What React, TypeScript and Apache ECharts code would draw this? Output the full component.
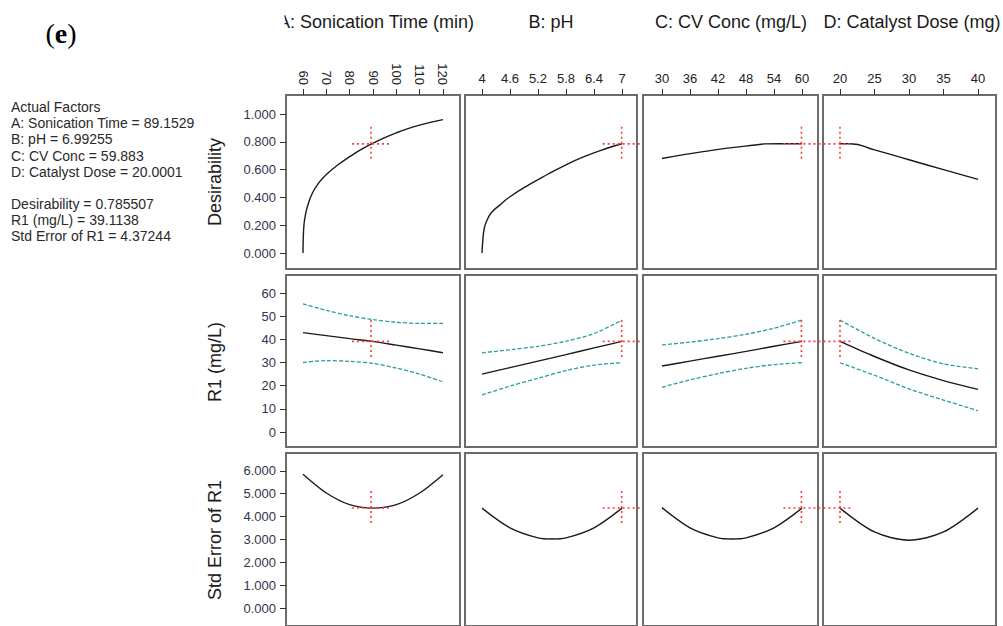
import React, { useEffect, useRef } from "react";
import * as echarts from "echarts";

// ---------- text ----------
const colTitles = ["A: Sonication Time (min)", "B: pH", "C: CV Conc (mg/L)", "D: Catalyst Dose (mg)"];
const rowNames = ["Desirability", "R1 (mg/L)", "Std Error of R1"];
const factorNames = ["A: Sonication Time", "B: pH", "C: CV Conc", "D: Catalyst Dose"];
const optimum = [89.1529, 6.99255, 59.883, 20.0001];
const optDesirability = 0.785507;
const optR1 = 39.1138;
const optSE = 4.37244;
const optR1Band = [31.5, 48.4];

// ---------- ticks ----------
const xTicks = [
  [60, 70, 80, 90, 100, 110, 120],
  [4, 4.6, 5.2, 5.8, 6.4, 7],
  [30, 36, 42, 48, 54, 60],
  [20, 25, 30, 35, 40],
];
const yTicks = [
  [0, 0.2, 0.4, 0.6, 0.8, 1.0],
  [0, 10, 20, 30, 40, 50, 60],
  [0, 1, 2, 3, 4, 5, 6],
];
const yDecimals = [3, 0, 3];

// ---------- Desirability ----------
const desTimeX = [60, 60.1, 60.4, 61, 62, 64, 67, 70, 75, 80, 85, 90, 95, 100, 105, 110, 115, 120];
const desTime = [0, 0.1, 0.2, 0.27, 0.34, 0.43, 0.51, 0.565, 0.635, 0.693, 0.745, 0.79, 0.83, 0.865, 0.895, 0.92, 0.942, 0.96];
const desPHX = [4, 4.02, 4.05, 4.1, 4.2, 4.4, 4.6, 5, 5.4, 5.8, 6.2, 6.6, 7];
const desPH = [0, 0.1, 0.18, 0.23, 0.29, 0.35, 0.405, 0.49, 0.565, 0.635, 0.695, 0.745, 0.786];
const desCVX = [30, 35, 40, 45, 50, 52, 55, 60];
const desCV = [0.68, 0.71, 0.735, 0.758, 0.777, 0.785, 0.786, 0.786];
const desDoseX = [20, 21.5, 25, 30, 35, 40];
const desDose = [0.786, 0.786, 0.742, 0.671, 0.6, 0.53];

// ---------- R1 (mean and CI) ----------
const timeX = [60, 70, 80, 90, 100, 110, 120];
const r1Time = [42.9, 41.6, 40.3, 39.1, 37.5, 35.9, 34.2];
const r1TimeHi = [55.3, 52.5, 50.2, 48.5, 47.4, 46.9, 46.9];
const r1TimeLo = [30.0, 30.8, 30.5, 29.6, 27.6, 25.0, 21.6];
const phX = [4, 4.6, 5.2, 5.8, 6.4, 7];
const r1PH = [25.0, 27.8, 30.6, 33.4, 36.3, 39.1];
const r1PHHi = [34.2, 35.5, 37.0, 39.2, 42.5, 48.3];
const r1PHLo = [16.0, 19.8, 23.2, 26.5, 28.9, 29.9];
const cvX = [30, 36, 42, 48, 54, 60];
const r1CV = [28.5, 30.6, 32.7, 34.8, 37.0, 39.1];
const r1CVHi = [37.6, 38.8, 40.3, 42.2, 44.8, 48.3];
const r1CVLo = [19.3, 22.5, 25.2, 27.5, 29.1, 29.9];
const doseX = [20, 25, 30, 35, 40];
const r1Dose = [39.1, 32.6, 26.8, 22.2, 18.4];
const r1DoseHi = [48.3, 40.4, 34.0, 29.4, 27.3];
const r1DoseLo = [29.9, 24.5, 18.6, 13.8, 9.2];

// ---------- Std Error ----------
const seTimeX = [60, 70, 80, 90, 100, 110, 120];
const seTime = [5.85, 5.03, 4.52, 4.37, 4.52, 5.03, 5.83];
const sePHX = [4, 4.6, 5.2, 5.5, 5.8, 6.4, 7];
const sePH = [4.37, 3.51, 3.07, 3.02, 3.07, 3.51, 4.37];
const seCVX = [30, 36, 42, 45, 48, 54, 60];
const seCV = [4.39, 3.51, 3.07, 3.02, 3.07, 3.51, 4.37];
const seDoseX = [20, 25, 30, 35, 40];
const seDose = [4.37, 3.33, 2.97, 3.33, 4.37];

// ---------- layout ----------
const colLeft = [286, 465, 643, 823];
const colWidth = [174, 172, 175, 173];
const rowTop = [95, 275, 453];
const rowHeight = [174, 172, 175];
const xMin = [52.71, 3.636, 25.93, 17.54];
const xMax = [127.29, 7.321, 63.43, 42.61];
const yMin = [-0.115, -6.47, -0.777];
const yMax = [1.137, 67.77, 6.777];

const FONT = "Liberation Sans, Arial, Helvetica, sans-serif";

const zip = (xs: number[], ys: number[]) => xs.map((x, i) => [x, ys[i]]);

export default function App() {
  const ref = useRef<HTMLDivElement>(null);
  useEffect(() => {
    document.body.style.margin = "0";
    const chart = echarts.init(ref.current!, undefined, { renderer: "svg" });

    const grids: any[] = [];
    const xAxes: any[] = [];
    const yAxes: any[] = [];
    const series: any[] = [];

    const meanData = [
      [zip(desTimeX, desTime), zip(desPHX, desPH), zip(desCVX, desCV), zip(desDoseX, desDose)],
      [zip(timeX, r1Time), zip(phX, r1PH), zip(cvX, r1CV), zip(doseX, r1Dose)],
      [zip(seTimeX, seTime), zip(sePHX, sePH), zip(seCVX, seCV), zip(seDoseX, seDose)],
    ];
    const hiData = [zip(timeX, r1TimeHi), zip(phX, r1PHHi), zip(cvX, r1CVHi), zip(doseX, r1DoseHi)];
    const loData = [zip(timeX, r1TimeLo), zip(phX, r1PHLo), zip(cvX, r1CVLo), zip(doseX, r1DoseLo)];

    for (let r = 0; r < 3; r++) {
      for (let c = 0; c < 4; c++) {
        const idx = r * 4 + c;
        grids.push({
          left: colLeft[c],
          top: rowTop[r],
          width: colWidth[c],
          height: rowHeight[r],
          show: true,
          borderColor: "#6c6c6c",
          borderWidth: 2,
          backgroundColor: "#fff",
        });
        xAxes.push({
          type: "value",
          gridIndex: idx,
          position: "top",
          min: xMin[c],
          max: xMax[c],
          axisLine: { show: false, onZero: false },
          splitLine: { show: false },
          axisTick: {
            show: r === 0,
            length: 6,
            customValues: xTicks[c],
            lineStyle: { color: "#333", width: 1 },
          },
          axisLabel: {
            show: r === 0,
            customValues: xTicks[c],
            rotate: c === 0 ? 90 : 0,
            margin: 10,
            fontSize: 13,
            fontFamily: FONT,
            color: "#222",
            formatter: (v: number) => String(v),
          },
        });
        yAxes.push({
          type: "value",
          gridIndex: idx,
          position: "left",
          min: yMin[r],
          max: yMax[r],
          axisLine: { show: false, onZero: false },
          splitLine: { show: false },
          axisTick: {
            show: c === 0,
            length: 6,
            customValues: yTicks[r],
            lineStyle: { color: "#333", width: 1 },
          },
          axisLabel: {
            show: c === 0,
            customValues: yTicks[r],
            margin: 10,
            fontSize: 13,
            fontFamily: FONT,
            color: "#33334d",
            formatter: (v: number) => v.toFixed(yDecimals[r]),
          },
        });
        if (r === 1) {
          for (const d of [hiData[c], loData[c]]) {
            series.push({
              type: "line",
              xAxisIndex: idx,
              yAxisIndex: idx,
              data: d,
              symbol: "none",
              smooth: 0.3,
              silent: true,
              lineStyle: { color: "#2a9d9d", width: 1.3, type: [4, 2] },
            });
          }
        }
        series.push({
          type: "line",
          xAxisIndex: idx,
          yAxisIndex: idx,
          data: meanData[r][c],
          symbol: "none",
          smooth: r === 0 ? 0.5 : 0.3,
          silent: true,
          lineStyle: { color: "#1a1a1a", width: 1.4 },
        });
      }
    }

    chart.setOption({
      animation: false,
      backgroundColor: "#fff",
      grid: grids,
      xAxis: xAxes,
      yAxis: yAxes,
      series,
    });

    // static texts
    const g: any[] = [];
    g.push({
      type: "text",
      x: 61,
      y: 33,
      style: {
        text: "{p|(}{b|e}{p|)}",
        align: "center",
        verticalAlign: "middle",
        rich: {
          p: { fontFamily: "Liberation Serif, Times New Roman, serif", fontSize: 28, fill: "#000" },
          b: { fontFamily: "Liberation Serif, Times New Roman, serif", fontSize: 28, fontWeight: "bold", fill: "#000" },
        },
      },
    });
    const titleX = [376, 551, 731, 912];
    colTitles.forEach((t, i) => {
      g.push({
        type: "text",
        x: titleX[i],
        y: 22,
        style: { text: t, align: "center", verticalAlign: "middle", fontSize: 18, fontFamily: FONT, fill: "#1a1a1a" },
      });
    });
    g.push({ type: "rect", shape: { x: 180, y: 6, width: 104.5, height: 32 }, style: { fill: "#fff" }, z: 50 });

    const leftLines: [string, number][] = [
      ["Actual Factors", 107],
      ...factorNames.map((n, i) => [`${n} = ${optimum[i]}`, 123 + i * 16.3] as [string, number]),
      [`Desirability = ${optDesirability}`, 204],
      [`R1 (mg/L) = ${optR1}`, 220],
      [`Std Error of R1 = ${optSE}`, 236],
    ];
    leftLines.forEach(([t, y]) => {
      g.push({
        type: "text",
        x: 11,
        y,
        style: { text: t, align: "left", verticalAlign: "middle", fontSize: 14, fontFamily: FONT, fill: "#2a2a2a" },
      });
    });
    rowNames.forEach((t, r) => {
      g.push({
        type: "text",
        x: 215,
        y: rowTop[r] + 87,
        rotation: Math.PI / 2,
        style: { text: t, align: "center", verticalAlign: "middle", fontSize: 18, fontFamily: FONT, fill: "#1a1a1a" },
      });
    });

    // crosshairs at the optimum
    const red = { stroke: "#ff3b3b", lineWidth: 1.6, lineDash: [2, 3] };
    const seg = (x1: number, y1: number, x2: number, y2: number) => ({
      type: "line",
      z: 100,
      shape: { x1, y1, x2, y2 },
      style: red,
    });
    const rowOpt = [optDesirability, optR1, optSE];
    for (let r = 0; r < 3; r++) {
      const pts = optimum.map((xv, c) =>
        chart.convertToPixel({ gridIndex: r * 4 + c } as any, [xv, rowOpt[r]]) as number[]
      );
      optimum.forEach((xv, c) => {
        const p = pts[c];
        if (r === 1) {
          const top = (chart.convertToPixel({ gridIndex: r * 4 + c } as any, [xv, optR1Band[1]]) as number[])[1];
          const bot = (chart.convertToPixel({ gridIndex: r * 4 + c } as any, [xv, optR1Band[0]]) as number[])[1];
          g.push(seg(p[0], top, p[0], bot));
        } else {
          g.push(seg(p[0], p[1] - 17, p[0], p[1] + 18));
        }
      });
      g.push(seg(pts[0][0] - 19, pts[0][1], pts[0][0] + 18, pts[0][1]));
      g.push(seg(pts[1][0] - 19, pts[1][1], pts[1][0] + 18, pts[1][1]));
      g.push(seg(pts[2][0] - 18, pts[2][1], pts[3][0] + 13, pts[3][1]));
    }

    chart.setOption({ graphic: g });

    return () => chart.dispose();
  }, []);

  return <div ref={ref} style={{ width: 1003, height: 626 }} />;
}
